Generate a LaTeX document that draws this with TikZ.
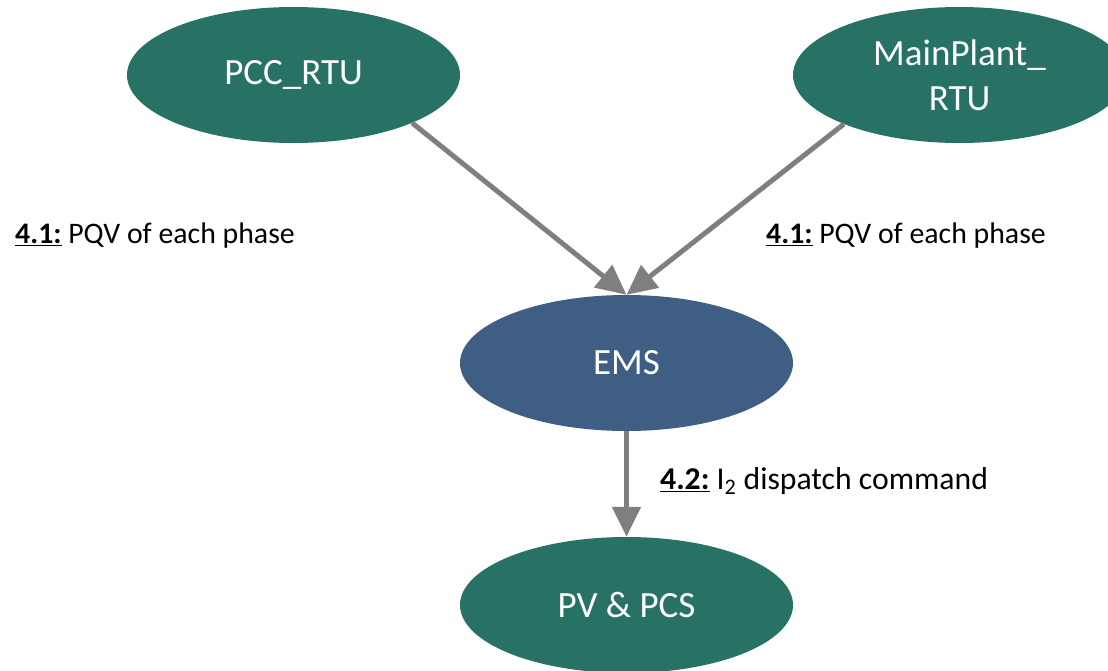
\documentclass[tikz,border=0pt]{standalone}
\usepackage{fontspec}
\setmainfont{Carlito}
\usetikzlibrary{shapes.geometric,arrows.meta}
\definecolor{nodegreen}{HTML}{277265}
\definecolor{nodeblue}{HTML}{3F5E84}
\definecolor{arrowgray}{HTML}{7F7F7F}
\tikzset{
  bubble/.style={ellipse, minimum width=333pt, minimum height=136pt, inner sep=0pt,
    text=white, font=\fontsize{37}{45}\selectfont, align=center},
  greenbubble/.style={bubble, fill=nodegreen},
  bluebubble/.style={bubble, fill=nodeblue},
  flow/.style={draw=arrowgray, line width=5pt, -{Triangle[length=30pt,width=28pt]}},
  lbl/.style={anchor=west, inner sep=0pt, text=black}
}
\begin{document}
\begin{tikzpicture}[x=1pt,y=-1pt]
\clip (0,0) rectangle (1108,670);
\useasboundingbox (0,0) rectangle (1108,670);
\node[greenbubble] (pcc) at (293.5,75) {PCC\_RTU};
\node[greenbubble] (mp) at (959.5,75) {MainPlant\_\\RTU};
\node[bluebubble] (ems) at (626.5,363) {EMS};
\node[greenbubble] (pv) at (626.5,605) {PV \& PCS};
\draw[flow] (pcc.-22.7) -- (ems.north);
\draw[flow] (mp.-157.4) -- (ems.north);
\draw[flow] (ems.south) -- (pv.north);
\node[lbl, font=\fontsize{29.8}{35}\selectfont] (l1) at (15,236) {\underline{\textbf{4.1:}} PQV of each phase};
\node[lbl, font=\fontsize{29.8}{35}\selectfont] (l2) at (766,236) {\underline{\textbf{4.1:}} PQV of each phase};
\node[lbl, font=\fontsize{31.7}{37}\selectfont] (l3) at (660,481) {\underline{\textbf{4.2:}} I\textsubscript{2} dispatch command};
\end{tikzpicture}
\end{document}
